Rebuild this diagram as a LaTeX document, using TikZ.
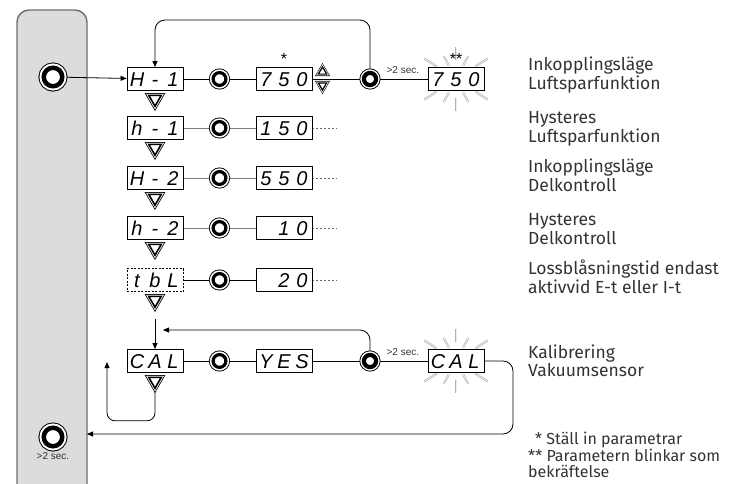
\documentclass[tikz,border=0pt]{standalone}
\usepackage{fontspec}
\setmainfont{Fira Sans}
\newfontfamily\arialfont{Liberation Sans}
\usetikzlibrary{arrows.meta,positioning,shapes.geometric,backgrounds}
\definecolor{panelgra}{HTML}{DCDCDE}
\definecolor{kantgra}{HTML}{6E6E6E}
\definecolor{textgra}{HTML}{333333}
\newcommand{\celler}[3]{\makebox[18pt]{#1}\makebox[18pt]{#2}\makebox[18pt]{#3}}
\tikzset{
  knapp/.style={circle,draw,fill=white,inner sep=0pt,minimum size=18.5pt,line width=4.5pt,
    preaction={draw=black,line width=10.5pt},preaction={draw=white,line width=8.5pt}},
  knappsm/.style={circle,draw,fill=white,inner sep=0pt,minimum size=12.8pt,line width=3.2pt,
    preaction={draw=black,line width=8.2pt},preaction={draw=white,line width=6.4pt}},
  knappset/.style={circle,draw,fill=white,inner sep=0pt,minimum size=12.2pt,line width=4.2pt,
    preaction={draw=black,line width=8.8pt},preaction={draw=white,line width=7pt}},
  trekant/.style={regular polygon,regular polygon sides=3,shape border rotate=180,draw,fill=white,
    inner sep=0pt,minimum size=14.4pt,line width=1.6pt,
    preaction={draw=black,line width=4.8pt},preaction={draw=white,line width=3.2pt}},
  pilupp/.style={regular polygon,regular polygon sides=3,draw,fill=white,
    inner sep=0pt,minimum size=9.6pt,line width=1.2pt,
    preaction={draw=black,line width=3.86pt},preaction={draw=white,line width=2.66pt}},
  visning/.style={draw,line width=0.9pt,fill=white,minimum width=56pt,minimum height=23pt,
    inner sep=0pt,text height=14pt,text depth=0pt,
    font=\arialfont\itshape\fontsize{20}{20}\selectfont},
  linje/.style={line width=0.8pt},
  gralinje/.style={line width=0.8pt,black!50},
  pil/.style={-{Triangle[length=6pt,width=5pt]}},
  prickar/.style={line width=0.8pt,black!60,dash pattern=on 1.5pt off 2.5pt},
  strale/.style={draw=black!30,line width=0.6pt,double=black!8,double distance=0.9pt},
  sek/.style={font=\arialfont\fontsize{10}{10}\selectfont,text=textgra,inner sep=1pt},
  stjarna/.style={font=\arialfont\fontsize{16}{16}\selectfont,inner sep=0pt},
  etikett/.style={anchor=west,align=left,inner sep=0pt,text=textgra,
    font=\fontsize{17.5}{18.5}\selectfont},
}
\begin{document}
\begin{tikzpicture}[x=1pt,y=-1pt]
  \useasboundingbox (0,0) rectangle (740,483);
  % knappar i panelen
  \node[knapp] (kA) at (53,77) {};
  \node[knapp] (kB) at (53,437) {};
  \node[sek,below=3pt of kB] (kBsek) {>2 sec.};
  % meny, vanster kolumn
  \node[visning] (p1) at (155,79) {\celler{H}{-}{1}};
  \node[visning] (p2) at (155,128) {\celler{h}{-}{1}};
  \node[visning] (p3) at (155,178) {\celler{H}{-}{2}};
  \node[visning] (p4) at (155,228) {\celler{h}{-}{2}};
  \node[visning,dash pattern=on 2pt off 1.5pt] (p5) at (155,280) {\celler{t}{b}{L}};
  \node[visning] (p6) at (155,361) {\celler{C}{A}{L}};
  \foreach \i/\y in {1/99,2/148,3/198,4/248,5/300,6/381}
    \node[trekant] (t\i) at (155,\y) {};
  % knappar
  \foreach \i/\y in {1/79,2/128,3/178,4/228,5/280,6/361}
    \node[knappsm] (c\i) at (219.5,\y) {};
  % varden
  \node[visning] (v1) at (284,79) {\celler{7}{5}{0}};
  \node[visning] (v2) at (284,128) {\celler{1}{5}{0}};
  \node[visning] (v3) at (284,178) {\celler{5}{5}{0}};
  \node[visning] (v4) at (284,228) {\celler{}{1}{0}};
  \node[visning] (v5) at (284,280) {\celler{}{2}{0}};
  \node[visning] (v6) at (284,361) {\celler{Y}{E}{S}};
  \node[pilupp] (upp) at (322.5,71.7) {};
  \node[pilupp,shape border rotate=180] (ned) at (322.5,85.3) {};
  \node[stjarna,above=2pt of v1] (st1) {*};
  % bekraftelse
  \node[knappset] (kS1) at (370,79) {};
  \node[knappset] (kS2) at (370,361) {};
  \node[visning] (b1) at (456,79) {\celler{7}{5}{0}};
  \node[visning] (b2) at (456,361) {\celler{C}{A}{L}};
  \node[stjarna,above=2pt of b1] (st2) {**};
  % texter
  \node[etikett] (e1) at (528,75) {Inkopplingsläge\\Luftsparfunktion};
  \node[etikett] (e2) at (528,129) {Hysteres\\Luftsparfunktion};
  \node[etikett] (e3) at (528,175.5) {Inkopplingsläge\\Delkontroll};
  \node[etikett] (e4) at (528,229) {Hysteres\\Delkontroll};
  \node[etikett] (e5) at (528,277) {Lossblåsningstid endast\\aktivvid E-t eller I-t};
  \node[etikett] (e6) at (528,361) {Kalibrering\\Vakuumsensor};
  \node[etikett,anchor=north west,font=\fontsize{16}{15.5}\selectfont] (fot) at (528,432)
    {\hphantom{*}*\ Ställ in parametrar\\** Parametern blinkar som\\bekräftelse};
  \coordinate (topp) at (155,20);
  \coordinate (retur) at (163,330);
  \coordinate (slinga) at (107,362);
  \coordinate (hoger) at (513,434);
  \coordinate (kant) at (87,434);
  \begin{scope}[on background layer]
    \filldraw[fill=panelgra,draw=kantgra,line width=1.4pt,rounded corners=12pt]
      (17,10) rectangle (87,496);
    \foreach \v/\a/\b in {90/19/32,270/19/32,62/15/26,118/15/26,242/15/26,298/15/26,
                          33/23/38,147/23/38,213/23/38,327/23/38} {
      \draw[strale] ([shift={(\v:\a pt)}]b1.center) -- ([shift={(\v:\b pt)}]b1.center);
      \draw[strale] ([shift={(\v:\a pt)}]b2.center) -- ([shift={(\v:\b pt)}]b2.center);
    }
    \draw[linje,pil] (kA) -- (p1);
    \draw[linje] (p1) -- (c1) -- (v1) -- (kS1);
    \draw[linje] (kS1) -- node[sek,above=4pt] {>2 sec.} (b1);
    \draw[linje,pil,rounded corners=10pt] (kS1.north) |- (topp) -- (p1.north);
    \foreach \i in {2,3,4} {
      \draw[gralinje] (p\i) -- (c\i) -- (v\i);
      \draw[prickar] (v\i.east) -- ++(25,0);
    }
    \draw[linje] (p5) -- (c5) -- (v5);
    \draw[prickar] (v5.east) -- ++(25,0);
    \draw[linje,pil,shorten <=10pt] (t5.south) -- (p6.north);
    \draw[linje] (p6) -- (c6) -- (v6) -- (kS2);
    \draw[linje] (kS2) -- node[sek,above=4pt] {>2 sec.} (b2);
    \draw[linje,pil,rounded corners=10pt] (kS2.north) |- (retur);
    \draw[linje,pil,rounded corners=8pt] (t6.south) -- ++(0,31) -| (slinga);
    \draw[linje,pil,rounded corners=10pt] (b2.east) -| (hoger) -- (kant);
  \end{scope}
\end{tikzpicture}
\end{document}
